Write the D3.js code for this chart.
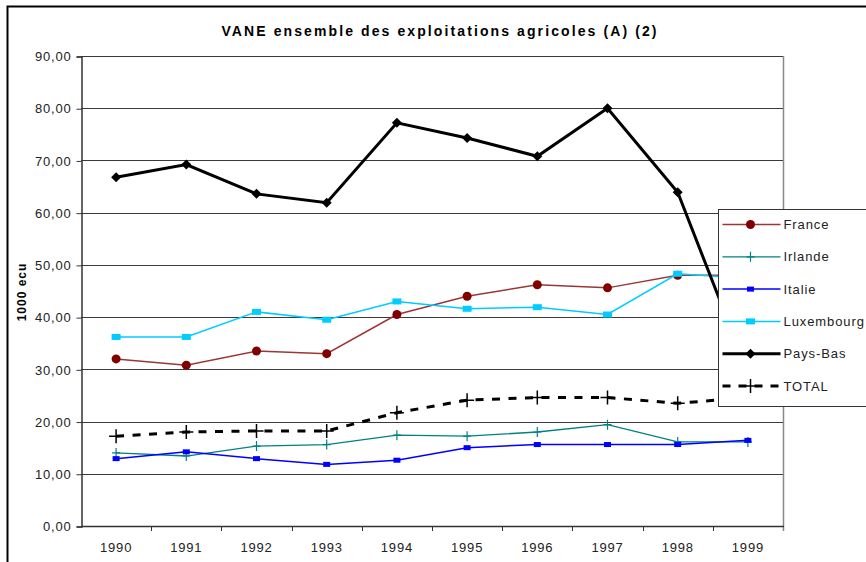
<!DOCTYPE html>
<html>
<head>
<meta charset="utf-8">
<script src="https://cdn.jsdelivr.net/npm/d3@7"></script>
<style>
  body { margin: 0; background: #fff; }
  svg { display: block; font-family: "Liberation Sans", Arial, sans-serif; }
</style>
</head>
<body>
<div id="graph"></div>
<script>
// data
const years = ["1990", "1991", "1992", "1993", "1994", "1995", "1996", "1997", "1998", "1999"];
const france = [32.0, 30.8, 33.5, 33.0, 40.5, 44.0, 46.2, 45.6, 48.0, 48.0];
const irlande = [14.0, 13.4, 15.3, 15.6, 17.4, 17.2, 18.0, 19.4, 16.1, 16.1];
const italie = [12.9, 14.2, 12.9, 11.8, 12.6, 15.0, 15.6, 15.6, 15.6, 16.4];
const luxembourg = [36.2, 36.2, 41.0, 39.5, 43.0, 41.6, 41.9, 40.5, 48.3, 47.4];
const paysBas = [66.8, 69.2, 63.6, 61.9, 77.2, 74.3, 70.8, 80.0, 63.9, 29.5];
const total = [17.2, 18.0, 18.2, 18.2, 21.7, 24.1, 24.6, 24.6, 23.5, 24.6];
const yTicks = [0, 10, 20, 30, 40, 50, 60, 70, 80, 90];

const series = [
  { name: "France", values: france, color: "#9b3636", width: 1.5, marker: "circle", mcolor: "#800000" },
  { name: "Irlande", values: irlande, color: "#008080", width: 1.3, marker: "plus", mcolor: "#008080" },
  { name: "Italie", values: italie, color: "#0000ff", width: 1.5, marker: "square", mcolor: "#0000ff" },
  { name: "Luxembourg", values: luxembourg, color: "#00ccff", width: 1.5, marker: "rect", mcolor: "#00ccff" },
  { name: "Pays-Bas", values: paysBas, color: "#000000", width: 3, marker: "diamond", mcolor: "#000000" },
  { name: "TOTAL", values: total, color: "#000000", width: 3, marker: "bigplus", mcolor: "#000000", dash: "8,8.5" }
];

const W = 866, H = 562;
const plot = { left: 81, right: 783, top: 56, bottom: 526 };

const svg = d3.select("#graph").append("svg")
  .attr("width", W).attr("height", H);

// outer chart border (cropped by the picture on the right and bottom)
svg.append("rect")
  .attr("x", 7.5).attr("y", 6.5)
  .attr("width", 1000).attr("height", 1000)
  .attr("fill", "none").attr("stroke", "#000").attr("stroke-width", 2);

const x = d3.scaleBand().domain(years).range([plot.left, plot.right]);
const y = d3.scaleLinear().domain([0, 90]).range([plot.bottom, plot.top]);
const cx = d => x(d) + x.bandwidth() / 2;

const fmt = v => d3.format(".2f")(v).replace(".", ",");

// gridlines
svg.append("g")
  .selectAll("line")
  .data(yTicks.filter(d => d > 0))
  .enter().append("line")
  .attr("x1", plot.left).attr("x2", plot.right)
  .attr("y1", d => Math.round(y(d)) + 0.5).attr("y2", d => Math.round(y(d)) + 0.5)
  .attr("stroke", "#3a3a3a").attr("stroke-width", 1);

// plot area right border (gray)
svg.append("line")
  .attr("x1", plot.right + 0.5).attr("x2", plot.right + 0.5)
  .attr("y1", plot.top).attr("y2", plot.bottom + 5)
  .attr("stroke", "#888").attr("stroke-width", 1.5);

// y axis
const yAxis = svg.append("g")
  .attr("transform", "translate(" + (plot.left + 0.5) + ",0.5)")
  .call(d3.axisLeft(y).tickValues(yTicks).tickFormat(fmt).tickSize(5).tickPadding(5));
yAxis.select(".domain").attr("stroke", "#333").attr("stroke-width", 1.5);
yAxis.selectAll(".tick line").attr("stroke", "#333");
yAxis.selectAll("text")
  .attr("font-size", 13).attr("letter-spacing", 0.8).attr("fill", "#222")
  .attr("font-family", "Liberation Sans, Arial, sans-serif");

// x axis: labels at band centres, ticks at band boundaries
const xAxis = svg.append("g")
  .attr("transform", "translate(0," + (plot.bottom + 0.5) + ")")
  .call(d3.axisBottom(x).tickSize(0).tickPadding(16));
xAxis.select(".domain").remove();
xAxis.selectAll("text")
  .attr("font-size", 13).attr("letter-spacing", 0.8).attr("fill", "#222")
  .attr("font-family", "Liberation Sans, Arial, sans-serif");

svg.append("line")
  .attr("x1", plot.left).attr("x2", plot.right + 1)
  .attr("y1", plot.bottom + 0.5).attr("y2", plot.bottom + 0.5)
  .attr("stroke", "#333").attr("stroke-width", 1.5);
svg.append("g")
  .selectAll("line")
  .data(years.slice(1))
  .enter().append("line")
  .attr("x1", d => Math.round(x(d)) + 0.5).attr("x2", d => Math.round(x(d)) + 0.5)
  .attr("y1", plot.bottom).attr("y2", plot.bottom + 5)
  .attr("stroke", "#333");

// title
svg.append("text")
  .attr("x", 440).attr("y", 36)
  .attr("text-anchor", "middle")
  .attr("font-size", 14).attr("font-weight", "bold").attr("letter-spacing", 2.1)
  .text("VANE ensemble des exploitations agricoles (A) (2)");

// y axis title
svg.append("text")
  .attr("transform", "translate(26,292) rotate(-90)")
  .attr("text-anchor", "middle")
  .attr("font-size", 12).attr("font-weight", "bold").attr("letter-spacing", 1)
  .text("1000 ecu");

function drawMarker(g, type, color) {
  if (type === "circle") {
    g.append("circle").attr("r", 4.5).attr("fill", color);
  } else if (type === "plus") {
    g.append("path").attr("d", "M-4,0H4M0,-5V5").attr("stroke", color).attr("stroke-width", 1.2);
  } else if (type === "square") {
    g.append("rect").attr("x", -3.5).attr("y", -2.5).attr("width", 7).attr("height", 5).attr("fill", color);
  } else if (type === "rect") {
    g.append("rect").attr("x", -4.5).attr("y", -3).attr("width", 9).attr("height", 6).attr("fill", color);
  } else if (type === "diamond") {
    g.append("path").attr("d", "M0,-5L5,0L0,5L-5,0Z").attr("fill", color);
  } else if (type === "bigplus") {
    g.append("path").attr("d", "M-7,0H7M0,-7V7").attr("stroke", color).attr("stroke-width", 1.5);
  }
}

const line = d3.line().x(d => cx(d.year)).y(d => y(d.value));

series.forEach(s => {
  const pts = years.map((yr, i) => ({ year: yr, value: s.values[i] }));
  svg.append("path")
    .datum(pts)
    .attr("d", line)
    .attr("fill", "none")
    .attr("stroke", s.color)
    .attr("stroke-width", s.width)
    .attr("stroke-dasharray", s.dash || null);
  svg.append("g")
    .selectAll("g")
    .data(pts)
    .enter().append("g")
    .attr("transform", d => "translate(" + cx(d.year) + "," + y(d.value) + ")")
    .each(function () { drawMarker(d3.select(this), s.marker, s.mcolor); });
});

// legend (sits on top of the lines, cropped at the right)
const legend = svg.append("g").attr("transform", "translate(718.5,209.5)");
legend.append("rect")
  .attr("width", 200).attr("height", 197)
  .attr("fill", "#fff").attr("stroke", "#333").attr("stroke-width", 1);
series.forEach((s, i) => {
  const ly = 15 + i * 32.3;
  const item = legend.append("g").attr("transform", "translate(0," + ly + ")");
  item.append("line")
    .attr("x1", 4).attr("x2", 62)
    .attr("stroke", s.color).attr("stroke-width", s.width)
    .attr("stroke-dasharray", s.dash ? "8,8" : null);
  const m = item.append("g").attr("transform", "translate(32,0)");
  drawMarker(m, s.marker, s.mcolor);
  item.append("text")
    .attr("x", 65).attr("y", 4.5)
    .attr("font-size", 13).attr("letter-spacing", 0.9).attr("fill", "#222")
    .text(s.name);
});
</script>
</body>
</html>
